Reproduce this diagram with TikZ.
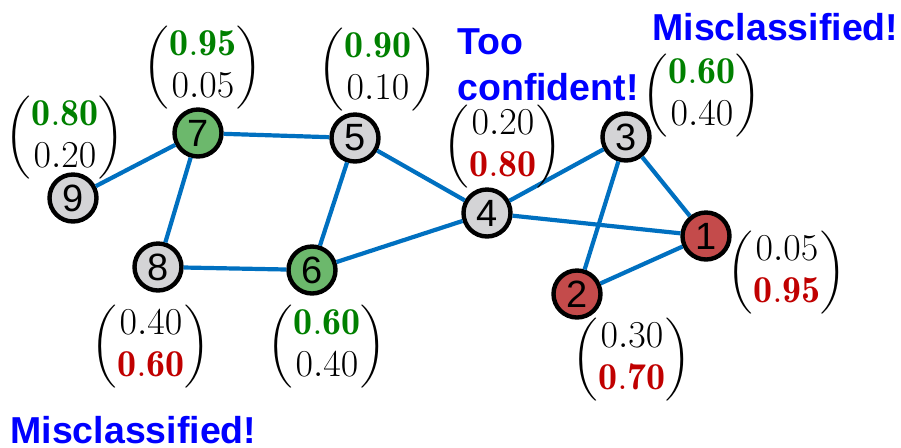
\RequirePackage{fix-cm}
\documentclass[tikz,border=0pt]{standalone}
\usepackage{amsmath}
\usepackage{fontspec}
\setsansfont{Liberation Sans}
\usepackage{tikz}

\definecolor{edgeblue}{HTML}{0070C0}
\definecolor{nodegray}{HTML}{D4D4D6}
\definecolor{nodegreen}{HTML}{6CB86C}
\definecolor{nodered}{HTML}{C44B4B}
\definecolor{probgreen}{HTML}{008000}
\definecolor{probred}{HTML}{C00000}
\definecolor{notered}{HTML}{0000FF}

\newcommand{\gprob}[1]{\textcolor{probgreen}{\mathbf{#1}}}
\newcommand{\rprob}[1]{\textcolor{probred}{\mathbf{#1}}}
\newcommand{\probvec}[2]{$\begin{pmatrix}#1\\#2\end{pmatrix}$}

\tikzset{
  vtx/.style={circle,draw=black,line width=2.2pt,minimum size=23.5pt,inner sep=0pt,
    fill=nodegray,font=\sffamily\fontsize{19}{20}\selectfont},
  good/.style={vtx,fill=nodegreen},
  bad/.style={vtx,fill=nodered},
  prob/.style={inner sep=0pt,font=\fontsize{19}{21}\selectfont},
  note/.style={inner sep=0pt,text=notered,align=left,
    font=\sffamily\bfseries\fontsize{18.75}{23}\selectfont},
  edge/.style={draw=edgeblue,line width=2.1pt}
}

\begin{document}
\begin{tikzpicture}[x=0.5pt,y=-0.5pt]
\useasboundingbox (0,0) rectangle (901,447);
\node[vtx]  (n9) at (73,198)  {9};
\node[good] (n7) at (198,133) {7};
\node[vtx]  (n5) at (355,138) {5};
\node[vtx]  (n4) at (487,213) {4};
\node[vtx]  (n3) at (626,137) {3};
\node[bad]  (n1) at (706,236) {1};
\node[bad]  (n2) at (577,294) {2};
\node[vtx]  (n8) at (158,267) {8};
\node[good] (n6) at (312,270) {6};
\foreach \a/\b in {n9/n7,n7/n5,n7/n8,n8/n6,n5/n6,n5/n4,n6/n4,n4/n3,n4/n1,n3/n1,n3/n2,n2/n1}
  \draw[edge] (\a) -- (\b);
\node[prob] (p9) at (65,138)  {\probvec{\gprob{0.80}}{0.20}};
\node[prob] (p7) at (203,68)  {\probvec{\gprob{0.95}}{0.05}};
\node[prob] (p5) at (378,70)  {\probvec{\gprob{0.90}}{0.10}};
\node[prob] (p4) at (503,147) {\probvec{0.20}{\rprob{0.80}}};
\node[prob] (p3) at (702,96)  {\probvec{\gprob{0.60}}{0.40}};
\node[prob] (p1) at (787,273) {\probvec{0.05}{\rprob{0.95}}};
\node[prob] (p2) at (632,360) {\probvec{0.30}{\rprob{0.70}}};
\node[prob] (p8) at (151,347) {\probvec{0.40}{\rprob{0.60}}};
\node[prob] (p6) at (327,347) {\probvec{\gprob{0.60}}{0.40}};
\node[note,anchor=north west] (conf) at (457,28) {Too\\confident!};
\node[note,anchor=base west] (miss1) at (652,40) {Misclassified!};
\node[note,anchor=base west] (miss2) at (10,443) {Misclassified!};
\end{tikzpicture}
\end{document}
